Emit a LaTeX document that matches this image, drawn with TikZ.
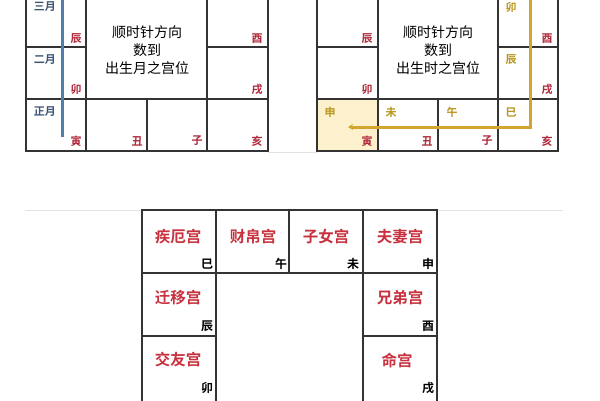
\documentclass[tikz,border=0pt]{standalone}
\usepackage{fontspec}
\setmainfont{Noto Sans CJK SC}
\newfontfamily\cjk{Noto Sans CJK SC}
\newfontfamily\cjkb{Noto Sans CJK SC Bold}
\usetikzlibrary{arrows.meta}
\definecolor{gridc}{HTML}{333333}
\definecolor{redc}{HTML}{B0283A}
\definecolor{palc}{HTML}{C8323F}
\definecolor{bluec}{HTML}{4F7FAF}
\definecolor{monc}{HTML}{3E5676}
\definecolor{goldc}{HTML}{D3A52E}
\definecolor{goldt}{HTML}{B8961E}
\definecolor{shadec}{HTML}{FDF0CC}
\definecolor{sepc}{HTML}{E2E2E2}
\tikzset{
  grid/.style={draw=gridc, line width=1.5pt},
  br/.style={text=redc, font=\cjkb\fontsize{11}{11}\selectfont, inner sep=0pt},
  brk/.style={text=black, font=\cjkb\fontsize{12}{12}\selectfont, inner sep=0pt},
  mon/.style={text=monc, font=\cjkb\fontsize{11}{11}\selectfont, inner sep=0pt},
  yl/.style={text=goldt, font=\cjkb\fontsize{11}{11}\selectfont, inner sep=0pt},
  ctr/.style={text=black, font=\cjk\fontsize{14}{18}\selectfont, align=center, inner sep=0pt},
  pal/.style={text=palc, font=\cjkb\fontsize{15.5}{16}\selectfont, inner sep=0pt},
  sep/.style={draw=sepc, line width=0.8pt},
}
\begin{document}
\begin{tikzpicture}[x=1pt,y=-1pt]
\useasboundingbox (0,0) rectangle (600,400);
\fill[white] (0,0) rectangle (600,400);
\clip (0,0) rectangle (600,400);
% separators
\draw[sep] (268,152) -- (317,152);
\draw[sep] (25,210) -- (563,210);
% ---------- left grid ----------
\draw[grid] (26,-10) -- (26,151) -- (268,151) -- (268,-10);
\draw[grid] (86,-10) -- (86,151);
\draw[grid] (207,-10) -- (207,151);
\draw[grid] (147,99) -- (147,151);
\draw[grid] (26,47) -- (86,47);
\draw[grid] (207,47) -- (268,47);
\draw[grid] (26,99) -- (268,99);
\coordinate (bl1) at (62,-5);
\coordinate (bl2) at (62,137);
\draw[bluec, line width=3pt] (bl1) -- (bl2);
\node[mon] (m3) at (45,7) {三月};
\node[mon] (m2) at (45,60) {二月};
\node[mon] (m1) at (45,112) {正月};
\node[br] (lchen) at (76,39) {辰};
\node[br] (lmao) at (76,89) {卯};
\node[br] (lyin) at (76,141) {寅};
\node[br] (lchou) at (137,141) {丑};
\node[br] (lzi) at (197,141) {子};
\node[br] (lhai) at (257,141) {亥};
\node[br] (lxu) at (257,89) {戌};
\node[br] (lyou) at (257,39) {酉};
\node[ctr] (lc) at (147,50) {顺时针方向\\数到\\出生月之宫位};
% ---------- right grid ----------
\fill[shadec] (317,99) rectangle (378,151);
\draw[grid] (317,-10) -- (317,151) -- (558,151) -- (558,-10);
\draw[grid] (378,-10) -- (378,151);
\draw[grid] (498,-10) -- (498,151);
\draw[grid] (438,99) -- (438,151);
\draw[grid] (317,47) -- (378,47);
\draw[grid] (498,47) -- (558,47);
\draw[grid] (317,99) -- (558,99);
\node[br] (rchen) at (367,39) {辰};
\node[br] (rmao) at (367,89) {卯};
\node[br] (ryin) at (367,141) {寅};
\node[br] (rchou) at (427,141) {丑};
\node[br] (rzi) at (487,141) {子};
\node[br] (rhai) at (547,141) {亥};
\node[br] (rxu) at (547,89) {戌};
\node[br] (ryou) at (547,39) {酉};
\node[yl] (ymao) at (511,7) {卯};
\node[yl] (ychen) at (511,60) {辰};
\node[yl] (ysi) at (511,112) {巳};
\node[yl] (ywu) at (452,112) {午};
\node[yl] (ywei) at (391,112) {未};
\node[yl] (yshen) at (330,112) {申};
\node[ctr] (rc) at (438,50) {顺时针方向\\数到\\出生时之宫位};
\coordinate (g1) at (530,-5);
\coordinate (g2) at (530,127);
\coordinate (g3) at (348,127);
\draw[goldc, line width=3pt, -{Stealth[length=5pt,width=6pt]}] (g1) -- (g2) -- (g3);
% ---------- bottom grid ----------
\draw[grid] (142,404) -- (142,210) -- (437,210) -- (437,404);
\draw[grid] (216,210) -- (216,404);
\draw[grid] (363,210) -- (363,404);
\draw[grid] (289,210) -- (289,273);
\draw[grid] (142,273) -- (437,273);
\draw[grid] (142,336) -- (216,336);
\draw[grid] (363,336) -- (437,336);
\node[pal] (p1) at (178,237) {疾厄宫};
\node[pal] (p2) at (253,237) {财帛宫};
\node[pal] (p3) at (326,237) {子女宫};
\node[pal] (p4) at (400,237) {夫妻宫};
\node[pal] (p5) at (178,298) {迁移宫};
\node[pal] (p6) at (400,298) {兄弟宫};
\node[pal] (p7) at (178,360) {交友宫};
\node[pal] (p8) at (397,360) {命宫};
\node[brk] (k1) at (207,264) {巳};
\node[brk] (k2) at (281,264) {午};
\node[brk] (k3) at (353,264) {未};
\node[brk] (k4) at (428,264) {申};
\node[brk] (k5) at (207,326) {辰};
\node[brk] (k6) at (428,326) {酉};
\node[brk] (k7) at (207,388) {卯};
\node[brk] (k8) at (428,388) {戌};
\end{tikzpicture}
\end{document}
